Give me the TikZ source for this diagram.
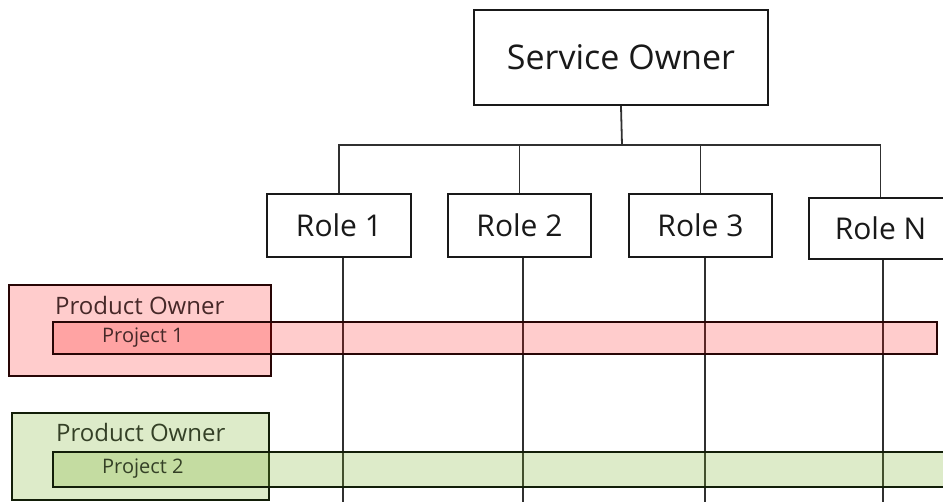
\documentclass[tikz,border=0pt]{standalone}
\usepackage{fontspec}
\setmainfont{Open Sans}
\definecolor{pinkfill}{RGB}{255,0,0}
\definecolor{pinkedge}{RGB}{40,5,5}
\definecolor{pinktext}{RGB}{70,40,40}
\definecolor{greenfill}{RGB}{120,175,40}
\definecolor{greenedge}{RGB}{18,30,8}
\definecolor{greentext}{RGB}{52,64,38}
\definecolor{ink}{RGB}{25,25,25}
\begin{document}
\begin{tikzpicture}[x=1pt,y=-1pt,
  box/.style={draw=ink,line width=2.4pt,fill=white,inner sep=0pt,text=ink},
  wire/.style={draw=ink!90,line width=1.8pt},
  pinkbox/.style={draw=pinkedge,line width=2pt,fill=pinkfill,fill opacity=0.2,inner sep=0pt},
  greenbox/.style={draw=greenedge,line width=2pt,fill=greenfill,fill opacity=0.25,inner sep=0pt},
  label/.style={inner sep=0pt,anchor=base west}]
\useasboundingbox (0,0) rectangle (943,502);

% service owner and roles
\node[box,minimum width=294pt,minimum height=95pt,font=\fontsize{34}{40}\selectfont] (so) at (621,57.5) {Service Owner};
\node[box,minimum width=144pt,minimum height=63pt,font=\fontsize{30}{36}\selectfont] (r1) at (339,225.5) {Role 1};
\node[box,minimum width=143pt,minimum height=63pt,font=\fontsize{30}{36}\selectfont] (r2) at (519.5,225.5) {Role 2};
\node[box,minimum width=143pt,minimum height=63pt,font=\fontsize{30}{36}\selectfont] (r3) at (700.5,225.5) {Role 3};
\node[box,minimum width=143pt,minimum height=61pt,font=\fontsize{30}{36}\selectfont] (rn) at (880.5,228.5) {Role N};

% tree connectors
\coordinate (bus) at (622,145);
\draw[wire] (so.south) -- (bus);
\draw[wire] (r1.north) |- (bus);
\draw[wire] (rn.north) |- (bus);
\draw[wire] (r2.north) -- (r2.north |- bus);
\draw[wire] (r3.north) -- (r3.north |- bus);

% role lines running down through the projects
\coordinate (e1) at (343,502);
\coordinate (e2) at (523,502);
\coordinate (e3) at (705,502);
\coordinate (e4) at (883,502);
\draw[wire] (r1.south -| e1) -- (e1);
\draw[wire] (r2.south -| e2) -- (e2);
\draw[wire] (r3.south -| e3) -- (e3);
\draw[wire] (rn.south -| e4) -- (e4);

% product owner 1 with project 1
\node[pinkbox,minimum width=262pt,minimum height=91pt] (po1) at (140,330.5) {};
\node[pinkbox,minimum width=884pt,minimum height=32pt] (p1) at (495,338) {};
\node[label,text=pinktext,font=\fontsize{24}{28}\selectfont] (po1t) at (55,315) {Product Owner};
\node[label,text=pinktext,font=\fontsize{20}{24}\selectfont] (p1t) at (102,343) {Project 1};

% product owner 2 with project 2
\node[greenbox,minimum width=257pt,minimum height=87pt] (po2) at (140.5,456.5) {};
\node[greenbox,minimum width=900pt,minimum height=35pt] (p2) at (503,469.5) {};
\node[label,text=greentext,font=\fontsize{24}{28}\selectfont] (po2t) at (56,442) {Product Owner};
\node[label,text=greentext,font=\fontsize{20}{24}\selectfont] (p2t) at (102,474) {Project 2};
\end{tikzpicture}
\end{document}
